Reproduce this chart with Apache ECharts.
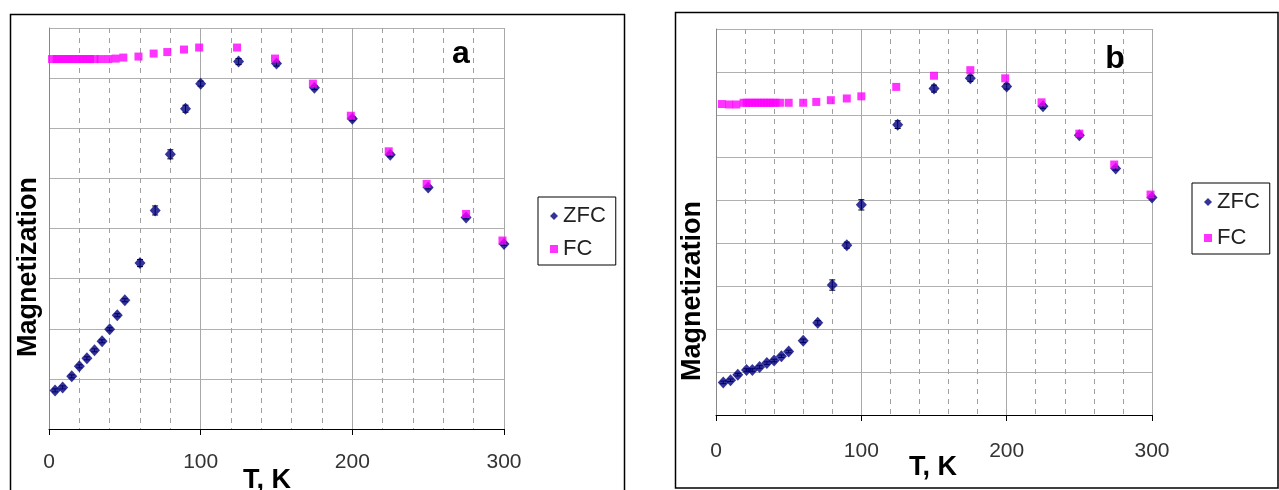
<!DOCTYPE html>
<html>
<head>
<meta charset="utf-8">
<script src="https://cdn.jsdelivr.net/npm/echarts@6/dist/echarts.min.js"></script>
<style>html,body{margin:0;padding:0;background:#fff}#main{width:1279px;height:490px}</style>
</head>
<body>
<div id="main"></div>
<script>
// panel a
var zfcTempA = [4, 9, 15, 20, 25, 30, 35, 40, 45, 50, 60, 70, 80, 90, 100, 125, 150, 175, 200, 225, 250, 275, 300];
var zfcMagA = [0.77, 0.83, 1.05, 1.25, 1.41, 1.57, 1.75, 1.99, 2.27, 2.57, 3.31, 4.36, 5.48, 6.39, 6.89, 7.33, 7.29, 6.81, 6.19, 5.47, 4.82, 4.22, 3.69];
var zfcErrA = [0.03, 0.03, 0.03, 0.03, 0.03, 0.03, 0.03, 0.03, 0.03, 0.03, 0.07, 0.09, 0.09, 0.07, 0.05, 0.06, 0.05, 0.04, 0.04, 0.04, 0.03, 0.03, 0.03];
var fcTempA = [2, 5, 7, 10, 12, 15, 17, 20, 22, 25, 27, 30, 34, 39, 44, 49, 59, 69, 78, 89, 99, 124, 149, 174, 199, 224, 249, 275, 299];
var fcMagA = [7.38, 7.38, 7.38, 7.38, 7.38, 7.38, 7.38, 7.38, 7.38, 7.38, 7.38, 7.38, 7.38, 7.38, 7.39, 7.41, 7.43, 7.49, 7.52, 7.57, 7.61, 7.61, 7.39, 6.89, 6.25, 5.54, 4.89, 4.29, 3.76];

// panel b
var zfcTempB = [5, 10, 15, 21, 25, 30, 35, 40, 45, 50, 60, 70, 80, 90, 100, 125, 150, 175, 200, 225, 250, 275, 300];
var zfcMagB = [0.76, 0.81, 0.94, 1.05, 1.05, 1.12, 1.21, 1.27, 1.37, 1.48, 1.73, 2.15, 3.03, 3.96, 4.90, 6.77, 7.61, 7.85, 7.66, 7.20, 6.52, 5.75, 5.07];
var zfcErrB = [0.03, 0.03, 0.03, 0.03, 0.03, 0.03, 0.03, 0.03, 0.03, 0.03, 0.04, 0.05, 0.12, 0.07, 0.12, 0.09, 0.08, 0.07, 0.06, 0.05, 0.04, 0.04, 0.03];
var fcTempB = [4, 9, 14, 19, 21, 23, 25, 27, 29, 31, 33, 35, 37, 39, 41, 44, 50, 60, 69, 79, 90, 100, 124, 150, 175, 199, 224, 250, 274, 299];
var fcMagB = [7.25, 7.24, 7.24, 7.28, 7.28, 7.28, 7.28, 7.28, 7.28, 7.28, 7.28, 7.28, 7.28, 7.28, 7.28, 7.28, 7.28, 7.28, 7.30, 7.34, 7.38, 7.43, 7.65, 7.91, 8.04, 7.85, 7.29, 6.56, 5.84, 5.14];

var xTicks = [0, 100, 200, 300];

var myChart = echarts.init(document.getElementById('main'));
var FONT = '"Liberation Sans", Arial, sans-serif';

function zip(a, b, c) {
    return a.map(function (v, i) { return c ? [v, b[i], c[i]] : [v, b[i]]; });
}

// vertical error bars with small caps
function renderErr(params, api) {
    var x = api.value(0), y = api.value(1), e = api.value(2);
    var hi = api.coord([x, y + e]), lo = api.coord([x, y - e]);
    var w = 3, st = {stroke: '#000', lineWidth: 1};
    return {
        type: 'group',
        children: [
            {type: 'line', shape: {x1: hi[0], y1: hi[1], x2: lo[0], y2: lo[1]}, style: st},
            {type: 'line', shape: {x1: hi[0] - w, y1: hi[1], x2: hi[0] + w, y2: hi[1]}, style: st},
            {type: 'line', shape: {x1: lo[0] - w, y1: lo[1], x2: lo[0] + w, y2: lo[1]}, style: st}
        ]
    };
}

function xAx(idx, margin) {
    return {
        type: 'value', gridIndex: idx, min: 0, max: 300, interval: 100,
        axisLine: {lineStyle: {color: '#000', width: 1}},
        axisTick: {length: 6, lineStyle: {color: '#000'}},
        axisLabel: {
            fontFamily: FONT, fontSize: 21, color: '#333', margin: margin,
            formatter: function (v) { return xTicks.indexOf(v) >= 0 ? String(v) : ''; }
        },
        splitLine: {show: true, lineStyle: {color: '#a8a8a8', width: 1}},
        minorTick: {show: false, splitNumber: 5},
        minorSplitLine: {show: true, lineStyle: {color: '#a0a0a0', type: [5, 5], width: 1}}
    };
}

function yAx(idx, max) {
    return {
        type: 'value', gridIndex: idx, min: 0, max: max, interval: 1,
        axisLine: {show: true, lineStyle: {color: '#888'}},
        axisTick: {show: false},
        axisLabel: {show: false},
        splitLine: {show: true, lineStyle: {color: '#b0b0b0', width: 1}}
    };
}

function legendAt(left, top, gap) {
    return {
        orient: 'vertical', left: left, top: top,
        borderColor: '#000', borderWidth: 1, backgroundColor: '#fff',
        padding: [8, 10, 5, 12], itemGap: gap, itemWidth: 8, itemHeight: 8,
        textStyle: {fontFamily: FONT, fontSize: 22, color: '#222'},
        data: [{name: 'ZFC', icon: 'diamond'}, {name: 'FC', icon: 'rect'}],
        selectedMode: false
    };
}

option = {
    backgroundColor: '#fff',
    animation: false,
    grid: [
        {left: 49, top: 28, width: 455, height: 401},
        {left: 716, top: 29, width: 436, height: 386}
    ],
    xAxis: [xAx(0, 23), xAx(1, 26)],
    yAxis: [yAx(0, 8), yAx(1, 9)],
    legend: [legendAt(538, 197, 11), legendAt(1192, 183, 14)],
    graphic: [
        {type: 'rect', shape: {x: 10.5, y: 14.5, width: 614, height: 500}, style: {fill: 'none', stroke: '#000', lineWidth: 1.5}, z: -1},
        {type: 'rect', shape: {x: 675.5, y: 12.5, width: 602.5, height: 475.5}, style: {fill: 'none', stroke: '#000', lineWidth: 1.5}, z: -1},
        {type: 'text', x: 461, y: 54, style: {text: 'a', font: 'bold 32px ' + FONT, fill: '#000', align: 'center', verticalAlign: 'middle'}},
        {type: 'text', x: 1115, y: 59, style: {text: 'b', font: 'bold 32px ' + FONT, fill: '#000', align: 'center', verticalAlign: 'middle'}},
        {type: 'text', x: 28.5, y: 267, rotation: Math.PI / 2, style: {text: 'Magnetization', font: 'bold 27px ' + FONT, fill: '#000', align: 'center', verticalAlign: 'middle'}},
        {type: 'text', x: 693, y: 291, rotation: Math.PI / 2, style: {text: 'Magnetization', font: 'bold 27px ' + FONT, fill: '#000', align: 'center', verticalAlign: 'middle'}},
        {type: 'text', x: 267, y: 481, style: {text: 'T, K', font: 'bold 27px ' + FONT, fill: '#000', align: 'center', verticalAlign: 'middle'}},
        {type: 'text', x: 933, y: 468, style: {text: 'T, K', font: 'bold 27px ' + FONT, fill: '#000', align: 'center', verticalAlign: 'middle'}}
    ],
    series: [
        {name: 'ZFC', type: 'scatter', xAxisIndex: 0, yAxisIndex: 0, clip: false,
            symbol: 'diamond', symbolSize: [11, 12], itemStyle: {color: '#000080'}, data: zip(zfcTempA, zfcMagA)},
        {name: 'errA', type: 'custom', xAxisIndex: 0, yAxisIndex: 0, clip: false,
            renderItem: renderErr, encode: {x: 0, y: 1}, data: zip(zfcTempA, zfcMagA, zfcErrA)},
        {name: 'FC', type: 'scatter', xAxisIndex: 0, yAxisIndex: 0, clip: false,
            symbol: 'rect', symbolSize: 8, itemStyle: {color: '#ff00ff'}, data: zip(fcTempA, fcMagA)},
        {name: 'ZFC', type: 'scatter', xAxisIndex: 1, yAxisIndex: 1, clip: false,
            symbol: 'diamond', symbolSize: [11, 12], itemStyle: {color: '#000080'}, data: zip(zfcTempB, zfcMagB)},
        {name: 'errB', type: 'custom', xAxisIndex: 1, yAxisIndex: 1, clip: false,
            renderItem: renderErr, encode: {x: 0, y: 1}, data: zip(zfcTempB, zfcMagB, zfcErrB)},
        {name: 'FC', type: 'scatter', xAxisIndex: 1, yAxisIndex: 1, clip: false,
            symbol: 'rect', symbolSize: 8, itemStyle: {color: '#ff00ff'}, data: zip(fcTempB, fcMagB)}
    ]
};

myChart.setOption(option);
onresize = myChart.resize;
</script>
</body>
</html>
